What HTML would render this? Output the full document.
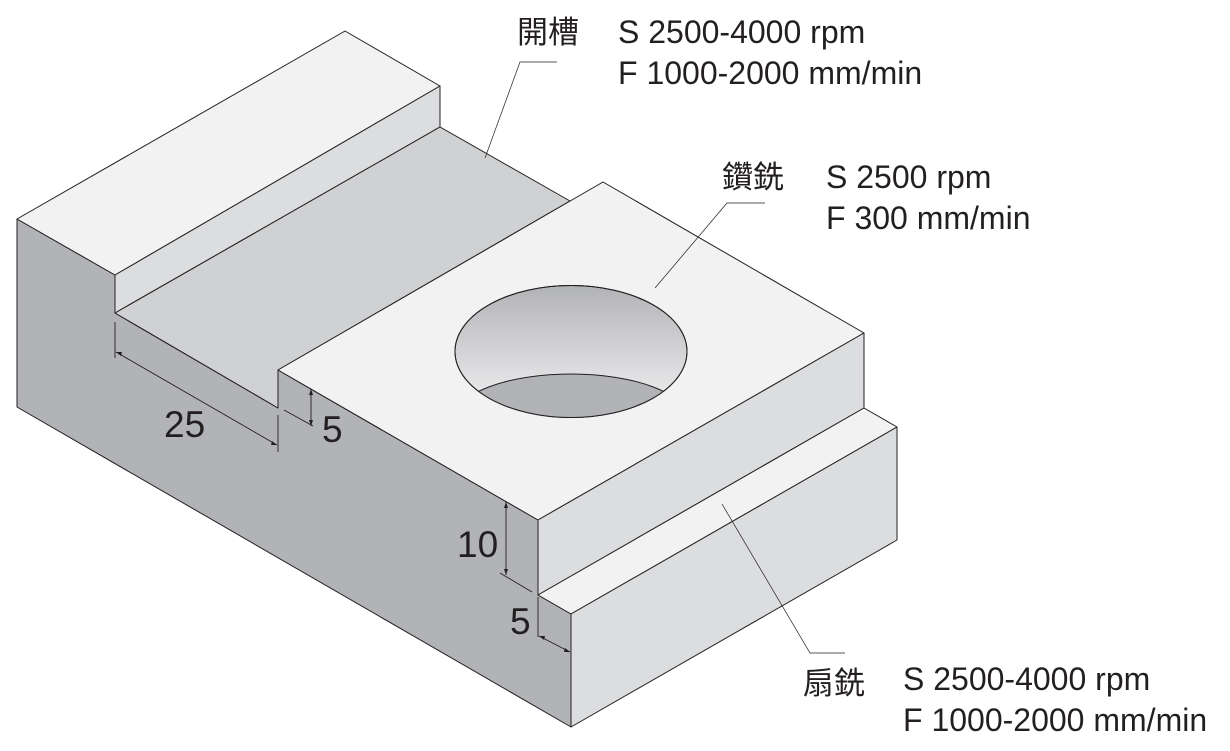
<!DOCTYPE html>
<html><head><meta charset="utf-8"><style>
html,body{margin:0;padding:0;background:#fff;}
svg{display:block;}
text{font-family:"Liberation Sans","Noto Sans CJK TC",sans-serif;fill:#231f20;}
</style></head><body>
<svg width="1230" height="751" viewBox="0 0 1230 751" xmlns="http://www.w3.org/2000/svg">
<defs>
<linearGradient id="hg" x1="0" y1="0" x2="0" y2="1">
<stop offset="0" stop-color="#b2b3b6"/><stop offset="1" stop-color="#f4f4f5"/>
</linearGradient>
<clipPath id="hc"><ellipse cx="571" cy="351.5" rx="116" ry="66"/></clipPath>
</defs>
<g stroke="#231f20" stroke-width="1" stroke-linejoin="round">
<polygon points="17,219 115,275 115,313 278,408 278,370 538,520 538,595 571,614 571,727 17,407" fill="#b2b3b6"/>
<polygon points="17,219 345,31 440,86 115,275" fill="#f2f2f2"/>
<polygon points="115,275 440,86 440,127 115,313" fill="#dcdddf"/>
<polygon points="115,313 440,127 570,201 278,370 278,408" fill="#d0d1d3"/>
<polygon points="278,370 603,182 864,333 538,520" fill="#f2f2f2"/>
<polygon points="538,520 864,333 864,408 538,595" fill="#dcdddf"/>
<polygon points="538,595 864,408 897,427 571,614" fill="#f2f2f2"/>
<polygon points="571,614 897,427 897,540 571,727" fill="#dcdddf"/>
<ellipse cx="571" cy="351.5" rx="116" ry="66" fill="url(#hg)"/>
<ellipse cx="571" cy="418" rx="116" ry="44" fill="#b2b3b6" clip-path="url(#hc)"/>
<ellipse cx="571" cy="351.5" rx="116" ry="66" fill="none"/>
</g>
<g stroke="#231f20" stroke-width="0.9" fill="none">
<line x1="115" y1="322" x2="115" y2="358"/>
<line x1="278" y1="415" x2="278" y2="452"/>
<line x1="116" y1="352" x2="277" y2="445"/>
<line x1="284" y1="410" x2="313" y2="426"/>
<line x1="311" y1="389" x2="311" y2="426"/>
<line x1="500" y1="573" x2="532" y2="592"/>
<line x1="506" y1="502" x2="506" y2="575"/>
<line x1="538" y1="597" x2="538" y2="637"/>
<line x1="539" y1="636" x2="570" y2="652"/>
<polyline points="557,62 520,62 485,158" stroke-width="0.7"/>
<polyline points="765,203 727,203 655,288" stroke-width="0.7"/>
<polyline points="845,653 810,653 722,504" stroke-width="0.7"/>
</g>
<g fill="#231f20">
<polygon points="116,352 122,352 121,356"/>
<polygon points="277,445 271,445 272,441"/>
<polygon points="311,389 309,395 313,395"/>
<polygon points="311,426 309,420 313,420"/>
<polygon points="506,502 504,508 508,508"/>
<polygon points="506,575 504,569 508,569"/>
<polygon points="539,636 545,636 544,640"/>
<polygon points="570,652 564,652 565,648"/>
</g>
<g font-size="37">
<text x="164" y="437">25</text>
<text x="322" y="442">5</text>
<text x="457" y="557">10</text>
<text x="510" y="634">5</text>
</g>
<g font-size="31">
<text x="517" y="43">開槽</text>
<text x="722" y="188">鑽銑</text>
<text x="803" y="694">扇銑</text>
</g>
<g font-size="32">
<text x="618" y="43">S 2500-4000 rpm</text>
<text x="618" y="84">F 1000-2000 mm/min</text>
<text x="826" y="188">S 2500 rpm</text>
<text x="826" y="229">F 300 mm/min</text>
<text x="903" y="690">S 2500-4000 rpm</text>
<text x="903" y="731">F 1000-2000 mm/min</text>
</g>
</svg>
</body></html>
